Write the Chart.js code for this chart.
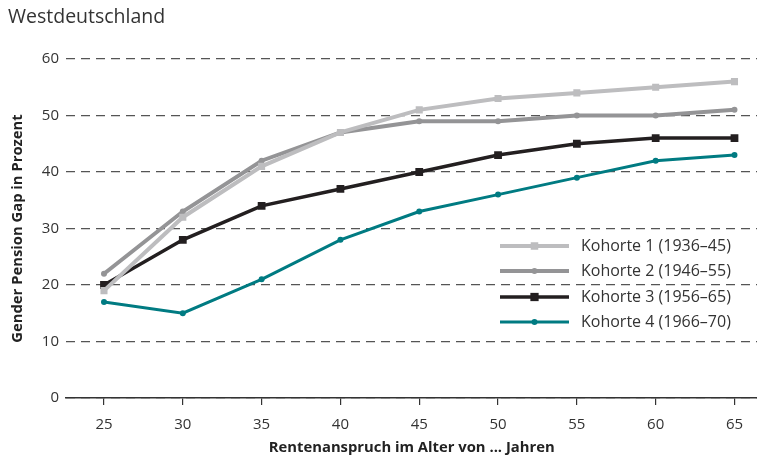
<!DOCTYPE html>
<html>
<head>
<meta charset="utf-8">
<script src="https://cdn.jsdelivr.net/npm/chart.js@4.4.1/dist/chart.umd.min.js"></script>
<style>
  html, body { margin: 0; padding: 0; background: #fff; overflow: hidden; }
  #wrap { position: relative; width: 757px; height: 461px; overflow: hidden; }
  #title { position: absolute; left: 8px; top: 2px; font-family: "Open Sans", sans-serif; font-size: 19.5px; color: #333; }
</style>
</head>
<body>
<div id="wrap">
  <div id="title">Westdeutschland</div>
  <canvas id="chart" width="763" height="461"></canvas>
</div>
<script>
// Data
const ages = [25, 30, 35, 40, 45, 50, 55, 60, 65];
const seriesNames = ["Kohorte 1 (1936–45)", "Kohorte 2 (1946–55)", "Kohorte 3 (1956–65)", "Kohorte 4 (1966–70)"];
const kohorte1 = [19, 32, 41, 47, 51, 53, 54, 55, 56];
const kohorte2 = [22, 33, 42, 47, 49, 49, 50, 50, 51];
const kohorte3 = [20, 28, 34, 37, 40, 43, 45, 46, 46];
const kohorte4 = [17, 15, 21, 28, 33, 36, 39, 42, 43];
const yTicks = [0, 10, 20, 30, 40, 50, 60];

const FONT = "Open Sans";

function toPoints(vals) {
  return ages.map((a, i) => ({ x: a, y: vals[i] }));
}

const styles = [
  { color: "#bdbdbf", width: 4, point: "rect", radius: 5 },
  { color: "#949496", width: 4, point: "circle", radius: 3 },
  { color: "#231f20", width: 3.5, point: "rect", radius: 5.5 },
  { color: "#007b82", width: 3, point: "circle", radius: 3 }
];
const allValues = [kohorte1, kohorte2, kohorte3, kohorte4];

const datasets = allValues.map((vals, i) => ({
  label: seriesNames[i],
  data: toPoints(vals),
  borderColor: styles[i].color,
  backgroundColor: styles[i].color,
  borderWidth: styles[i].width,
  pointStyle: styles[i].point,
  pointRadius: styles[i].radius,
  pointBorderWidth: 0,
  tension: 0
}));

// Legend drawn inside the plot, line with marker in the middle
const insideLegend = {
  id: "insideLegend",
  afterDatasetsDraw(chart) {
    const ctx = chart.ctx;
    const x0 = 500, x1 = 569, textX = 581;
    const rowY = [246, 271, 297, 322];
    ctx.save();
    styles.forEach((s, i) => {
      const y = rowY[i];
      ctx.strokeStyle = s.color;
      ctx.lineWidth = s.width;
      ctx.beginPath();
      ctx.moveTo(x0, y);
      ctx.lineTo(x1, y);
      ctx.stroke();
      ctx.fillStyle = s.color;
      const cx = (x0 + x1) / 2;
      if (s.point === "rect") {
        const r = s.radius * 0.75;
        ctx.fillRect(cx - r, y - r, r * 2, r * 2);
      } else {
        ctx.beginPath();
        ctx.arc(cx, y, s.radius, 0, Math.PI * 2);
        ctx.fill();
      }
      ctx.fillStyle = "#333";
      ctx.font = "16px '" + FONT + "'";
      ctx.textBaseline = "middle";
      ctx.fillText(seriesNames[i], textX, y);
    });
    ctx.restore();
  }
};

new Chart(document.getElementById("chart"), {
  type: "line",
  data: { datasets: datasets },
  plugins: [insideLegend],
  options: {
    responsive: false,
    animation: false,
    layout: { padding: { top: 59, left: 0, right: 0, bottom: 0 } },
    plugins: {
      legend: { display: false },
      tooltip: { enabled: false }
    },
    scales: {
      x: {
        type: "linear",
        min: 22.59,
        max: 66.46,
        afterBuildTicks: (scale) => { scale.ticks = ages.map(v => ({ value: v })); },
        afterFit: (scale) => { scale.height = 63; },
        border: { display: true, color: "#333", width: 1.5 },
        grid: { drawOnChartArea: false, drawTicks: true, tickLength: 7, color: "#333", lineWidth: 1.2 },
        ticks: { color: "#333", font: { family: FONT, size: 15 }, padding: 11 },
        title: { display: true, text: "Rentenanspruch im Alter von ... Jahren", color: "#222", font: { family: FONT, size: 14.8, weight: "bold" }, padding: { top: 0 } }
      },
      y: {
        min: 0,
        max: 60,
        afterBuildTicks: (scale) => { scale.ticks = yTicks.map(v => ({ value: v })); },
        afterFit: (scale) => { scale.width = 66; },
        border: { display: false, dash: [9, 6] },
        grid: { drawTicks: false, color: "#555", lineWidth: 1.2 },
        ticks: { color: "#333", font: { family: FONT, size: 15 }, padding: 7 },
        title: { display: true, text: "Gender Pension Gap in Prozent", color: "#222", font: { family: FONT, size: 14.8, weight: "bold" }, padding: { top: 9, bottom: 0 } }
      }
    }
  }
});
</script>
</body>
</html>
